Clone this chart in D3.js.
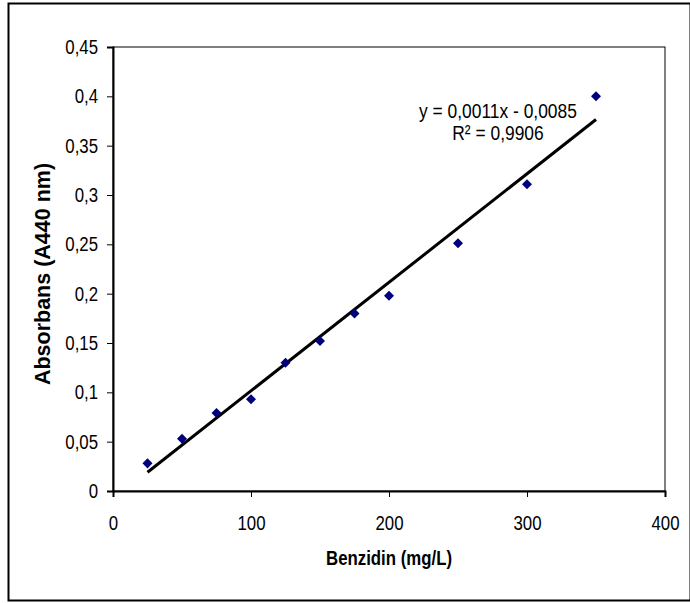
<!DOCTYPE html>
<html>
<head>
<meta charset="utf-8">
<script src="https://cdn.jsdelivr.net/npm/d3@7"></script>
<style>
  body { margin: 0; background: #fff; }
  text { font-family: "Liberation Sans", Arial, sans-serif; }
</style>
</head>
<body>
<div id="chart"></div>
<script>
// data
const concentration = [25, 50, 75, 100, 125, 150, 175, 200, 250, 300, 350];
const absorbance = [0.028, 0.053, 0.079, 0.093, 0.130, 0.152, 0.180, 0.198, 0.251, 0.311, 0.400];
const xTicks = [0, 100, 200, 300, 400];
const yTicks = [0, 0.05, 0.1, 0.15, 0.2, 0.25, 0.3, 0.35, 0.4, 0.45];
const trendSlope = 0.0011;
const trendIntercept = -0.0085;
const equationLines = ['y = 0,0011x - 0,0085', 'R\u00B2 = 0,9906'];

const W = 690, H = 603;
let margin = { top: 47, left: 113, right: 25, bottom: 112 },
    width = W - margin.left - margin.right,
    height = H - margin.top - margin.bottom;

// the source picture is squeezed sideways, so text is narrowed to match
function squeeze(sel, k) {
  sel.each(function() {
    let w = this.getComputedTextLength();
    d3.select(this).attr('textLength', w * k).attr('lengthAdjust', 'spacingAndGlyphs');
  });
}

const svg = d3.select('#chart').append('svg')
  .attr('width', W)
  .attr('height', H);

// outer frame
svg.append('rect')
  .attr('x', 8.5).attr('y', 3.5)
  .attr('width', W - 8).attr('height', 597)
  .attr('fill', 'none').attr('stroke', '#000').attr('stroke-width', 2);

const g = svg.append('g').attr('transform', 'translate(' + margin.left + ',' + margin.top + ')');

const xScale = d3.scaleLinear().domain([0, 400]).range([0, width]);
const yScale = d3.scaleLinear().domain([0, 0.45]).range([height, 0]);

// plot area box
g.append('rect')
  .attr('x', 0).attr('y', 0)
  .attr('width', width).attr('height', height)
  .attr('fill', 'none').attr('stroke', '#000').attr('stroke-width', 1);

const fmt = d => String(d).replace('.', ',');

// x axis
const xAxis = g.append('g')
  .attr('transform', 'translate(0,' + height + ')')
  .call(d3.axisBottom(xScale).tickValues(xTicks).tickSize(6).tickPadding(19).tickFormat(fmt));
xAxis.select('.domain').attr('stroke-width', 2);
xAxis.selectAll('text').attr('font-size', 20).attr('fill', '#000')
  .style('font-family', '"Liberation Sans", Arial, sans-serif')
  .call(squeeze, 0.84);

// y axis
const yAxis = g.append('g')
  .call(d3.axisLeft(yScale).tickValues(yTicks).tickSize(6).tickPadding(9).tickFormat(fmt));
yAxis.select('.domain').attr('stroke-width', 2);
yAxis.selectAll('text').attr('font-size', 20).attr('fill', '#000')
  .style('font-family', '"Liberation Sans", Arial, sans-serif')
  .call(squeeze, 0.84);

// trend line
const x0 = d3.min(concentration), x1 = d3.max(concentration);
g.append('line')
  .attr('x1', xScale(x0)).attr('y1', yScale(trendSlope * x0 + trendIntercept))
  .attr('x2', xScale(x1)).attr('y2', yScale(trendSlope * x1 + trendIntercept))
  .attr('stroke', '#000').attr('stroke-width', 3);

// diamond markers
const points = concentration.map((c, i) => ({ x: c, y: absorbance[i] }));
g.selectAll('.pt')
  .data(points)
  .enter().append('path')
  .attr('class', 'pt')
  .attr('d', d3.symbol().type(d3.symbolDiamond2).size(64))
  .attr('transform', d => 'translate(' + xScale(d.x) + ',' + yScale(d.y) + ')')
  .attr('fill', '#00007f');

// equation label
g.selectAll('.eq')
  .data(equationLines)
  .enter().append('text')
  .attr('class', 'eq')
  .attr('x', 498 - margin.left)
  .attr('y', (d, i) => 118 - margin.top + i * 22)
  .attr('text-anchor', 'middle')
  .attr('font-size', 20)
  .text(d => d)
  .call(squeeze, 0.87);

// axis titles
svg.append('text')
  .attr('x', margin.left + width / 2).attr('y', 565)
  .attr('text-anchor', 'middle')
  .attr('font-size', 21).attr('font-weight', 'bold')
  .text('Benzidin (mg/L)')
  .call(squeeze, 0.8);

svg.append('text')
  .attr('transform', 'translate(50,274) rotate(-90)')
  .attr('text-anchor', 'middle')
  .attr('font-size', 21.5).attr('font-weight', 'bold')
  .text('Absorbans (A440 nm)');
</script>
</body>
</html>
